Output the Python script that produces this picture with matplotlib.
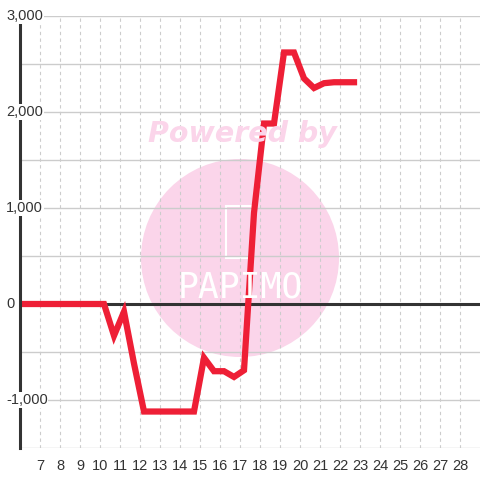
import matplotlib.pyplot as plt
from matplotlib.patches import Circle
from matplotlib.transforms import blended_transform_factory

# data (x in hours, value)
hours = [5.7, 6.2, 6.7, 7.2, 7.7, 8.2, 8.7, 9.2, 9.7, 10.2, 10.7, 11.2, 11.7,
         12.2, 12.7, 13.2, 13.7, 14.2, 14.7, 15.2, 15.7, 16.2, 16.7, 17.2,
         17.7, 18.2, 18.7, 19.2, 19.7, 20.2, 20.7, 21.2, 21.7, 22.2, 22.7]
values = [0, 0, 0, 0, 0, 0, 0, 0, 0, 0, -330, -80, -620,
          -1120, -1120, -1120, -1120, -1120, -1120, -560, -700, -700, -760, -690,
          950, 1880, 1880, 2620, 2620, 2350, 2250, 2300, 2310, 2310, 2310]
x_ticks = list(range(7, 29))
y_ticks = [-1000, 0, 1000, 2000, 3000]

plt.rcParams['font.family'] = ['Liberation Sans', 'DejaVu Sans']

fig = plt.figure(figsize=(4.8, 4.8), dpi=100)
ax = fig.add_axes([20 / 480, 32 / 480, 460 / 480, 432 / 480])
ax.set_xlim(6, 29)
ax.set_ylim(-1500, 3000)

# watermark
ax.add_patch(Circle((240 / 480, 1 - 258 / 480), 99 / 480, transform=fig.transFigure,
                    facecolor='#fbd5ea', edgecolor='none', zorder=0))
fig.text(242 / 480, 1 - 134 / 480, 'Powered by', color='#fbd5ea', fontsize=20.5,
         fontweight='bold', style='italic', ha='center', va='center',
         family='DejaVu Sans', zorder=0)
fig.text(240 / 480, 1 - 288 / 480, 'PAPIMO', color='white', fontsize=25,
         ha='center', va='center', family='DejaVu Sans Mono', zorder=1)
ax.add_patch(plt.Rectangle((226 / 480, 1 - 258 / 480), 26 / 480, 52 / 480,
                           transform=fig.transFigure, facecolor='none',
                           edgecolor='white', linewidth=1.5, zorder=1))

# grid
for y in range(-1500, 3001, 500):
    ax.axhline(y, color='#cccccc', linewidth=1, zorder=2)
for x in x_ticks:
    ax.axvline(x, color='#cccccc', linewidth=0.8, linestyle=(0, (3, 3)), zorder=2)
ax.axhline(0, color='#333333', linewidth=2.2, zorder=3)

ax.plot(hours, values, color='#ee1f36', linewidth=4.5, solid_joinstyle='miter', zorder=4)

for s in ['top', 'right', 'bottom']:
    ax.spines[s].set_visible(False)
ax.spines['left'].set_color('#333333')
ax.spines['left'].set_linewidth(2.2)
ax.spines['left'].set_bounds(-1500, 2920)
ax.spines['left'].set_zorder(5)

ax.set_xticks(x_ticks)
ax.set_xticklabels([str(x) for x in x_ticks])
ax.tick_params(axis='x', length=0, pad=8, labelsize=10.5, colors='#333333')
ax.set_yticks([])
label_trans = blended_transform_factory(fig.transFigure, ax.transData)
for y in y_ticks:
    ax.text(6 / 480, y, f'{y:,}', transform=label_trans,
            ha='left', va='center', fontsize=10.5, color='#333333', zorder=6,
            bbox=dict(facecolor='white', edgecolor='none', pad=0.5))

fig.savefig('out.png', dpi=100, facecolor='white')
